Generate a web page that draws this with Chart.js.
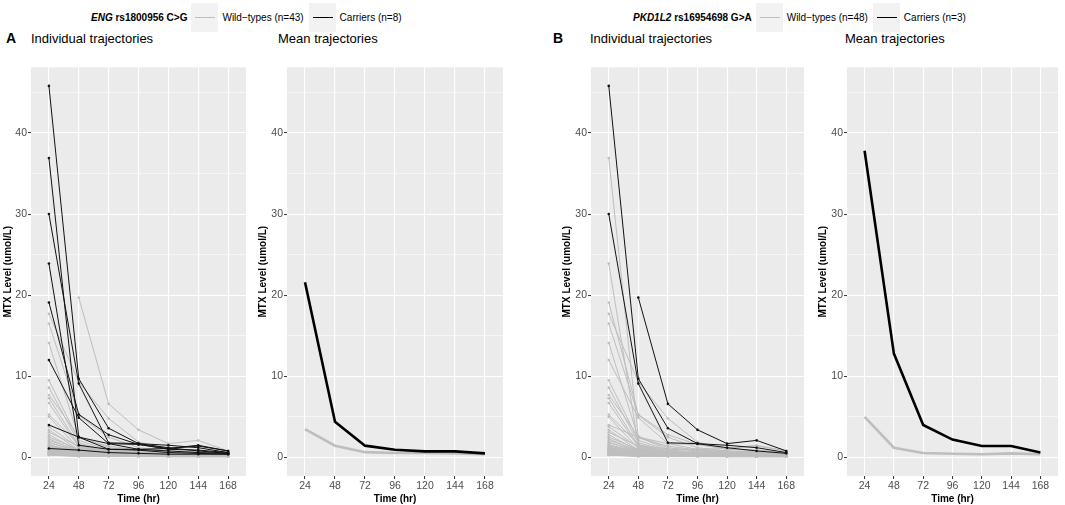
<!DOCTYPE html>
<html>
<head>
<meta charset="utf-8">
<script src="https://cdn.jsdelivr.net/npm/chart.js@4.4.1/dist/chart.umd.min.js"></script>
<style>
  body { margin: 0; width: 1065px; height: 505px; background: #fff; position: relative; overflow: hidden;
         font-family: "Liberation Sans", Arial, sans-serif; }
  canvas { position: absolute; top: 60px; }
  .tag { position: absolute; top: 31px; font-size: 14px; font-weight: bold; line-height: 1; }
  .title { position: absolute; top: 32px; font-size: 13px; line-height: 1; }
  .legend { position: absolute; top: 3px; height: 29px; display: flex; align-items: center; font-size: 10px; white-space: nowrap; }
  .legend b { margin-right: 4px; }
  .key { width: 27px; height: 29px; background: #F2F2F2; position: relative; margin-right: 4px; }
  .key i { position: absolute; left: 4px; right: 3px; top: 14px; height: 1px; }
  .gap { margin-right: 5px; }
</style>
</head>
<body>

<div class="legend" style="left:91px">
  <b><i>ENG</i> rs1800956 C&gt;G</b>
  <span class="key"><i style="background:#BEBEBE"></i></span><span class="gap">Wild−types (n=43)</span>
  <span class="key"><i style="background:#000"></i></span><span>Carriers (n=8)</span>
</div>
<div class="legend" style="left:633px">
  <b><i>PKD1L2</i> rs16954698 G&gt;A</b>
  <span class="key"><i style="background:#BEBEBE"></i></span><span class="gap">Wild−types (n=48)</span>
  <span class="key"><i style="background:#000"></i></span><span>Carriers (n=3)</span>
</div>

<div class="tag" style="left:6px">A</div>
<div class="title" style="left:31px">Individual trajectories</div>
<div class="title" style="left:278px">Mean trajectories</div>
<div class="tag" style="left:553px">B</div>
<div class="title" style="left:590px">Individual trajectories</div>
<div class="title" style="left:845px">Mean trajectories</div>

<canvas id="engIndividual" width="250" height="445" style="left:0px"></canvas>
<canvas id="engMean" width="250" height="445" style="left:255px"></canvas>
<canvas id="pkdIndividual" width="249" height="445" style="left:559px"></canvas>
<canvas id="pkdMean" width="245" height="445" style="left:815px"></canvas>

<script>
// 時間點與刻度
const timePoints = [24, 48, 72, 96, 120, 144, 168];
const yTicks = [0, 5, 10, 15, 20, 25, 30, 35, 40, 45];

// 每位病人的 MTX 濃度 (24h ... 168h)，null = 沒有量測
const patients = [
  [45.8, 9.7, 3.6, 1.7, 1.5, 1.2, 0.6],
  [36.9, 2.5, 1.7, 1.6, 1.1, 1.5, 0.8],
  [30.0, 9.1, 1.8, 1.7, 1.2, 0.8, 0.5],
  [23.9, 1.5, 1.0, 0.9, 0.6, 0.5, 0.4],
  [19.1, 5.3, 2.8, 1.6, 1.0, 0.9, 0.6],
  [12.0, 4.9, 1.7, 1.0, 1.1, 1.4, 0.8],
  [4.0, 2.5, 1.0, 1.0, 0.8, 0.6, 0.5],
  [1.1, 0.9, 0.6, 0.5, 0.4, 0.4, 0.4],
  [null, 19.7, 6.6, 3.4, 1.7, 2.1, 0.8],
  [17.7, 9.3, 4.8, 1.9, 1.0, 0.9, 0.5],
  [16.5, 5.2, 2.5, 1.2, 0.8, 0.7, 0.5],
  [14.1, 2.4, 1.4, 0.9, 0.7, 0.6, 0.4],
  [9.5, 2.1, 0.9, 0.7, 0.5, 0.5, 0.4],
  [8.6, 1.8, 0.8, 0.6, 0.5, 0.4, 0.3],
  [7.7, 2.6, 1.2, 0.8, 0.6, 0.5, 0.4],
  [7.3, 1.5, 0.6, 0.5, 0.4, 0.4, 0.3],
  [6.7, 1.3, 0.6, 0.5, 0.4, 0.4, 0.3],
  [5.3, 1.6, 0.7, 0.6, 0.5, 0.4, 0.3],
  [5.0, 1.1, 0.5, 0.4, 0.3, 0.3, 0.3],
  [3.8, 1.2, 0.6, 0.5, 0.4, 0.3, 0.3],
  [3.4, 0.9, 0.5, 0.4, 0.3, 0.3, 0.2],
  [3.1, 1.4, 0.7, 0.5, 0.4, 0.4, 0.3],
  [2.8, 0.8, 0.4, 0.3, 0.3, 0.2, 0.2],
  [2.5, 1.0, 0.6, 0.5, 0.4, 0.3, 0.3],
  [2.3, 0.7, 0.4, 0.3, 0.3, 0.2, 0.2],
  [2.1, 0.9, 0.5, 0.4, 0.4, 0.3, 0.3],
  [1.9, 0.6, 0.4, 0.3, 0.2, 0.2, 0.2],
  [1.8, 0.8, 0.5, 0.4, 0.3, 0.3, 0.2],
  [1.6, 0.5, 0.3, 0.3, 0.2, 0.2, 0.2],
  [1.5, 0.7, 0.5, 0.4, 0.3, 0.3, 0.3],
  [1.4, 0.6, 0.4, 0.4, 0.3, 0.2, 0.2],
  [1.3, 0.5, 0.4, 0.3, 0.3, 0.3, 0.2],
  [1.2, 0.6, 0.5, 0.4, 0.3, 0.3, 0.3],
  [1.1, 0.4, 0.3, 0.3, 0.2, 0.2, 0.2],
  [1.0, 0.5, 0.4, 0.3, 0.3, 0.2, 0.2],
  [0.9, 0.4, 0.4, 0.3, 0.3, 0.3, 0.2],
  [0.9, 0.3, 0.3, 0.2, 0.2, 0.2, 0.2],
  [0.8, 0.4, 0.3, 0.3, 0.2, 0.2, 0.2],
  [0.8, 0.3, 0.3, 0.3, 0.3, 0.2, 0.2],
  [0.7, 0.3, 0.2, 0.2, 0.2, 0.2, 0.2],
  [0.7, 0.4, 0.4, 0.3, 0.3, 0.3, 0.2],
  [0.6, 0.3, 0.3, 0.3, 0.2, 0.2, 0.2],
  [0.6, 0.2, 0.2, 0.2, 0.2, 0.2, 0.1],
  [0.5, 0.3, 0.3, 0.3, 0.3, 0.2, 0.2],
  [0.5, 0.2, 0.2, 0.2, 0.2, 0.2, 0.1],
  [0.4, 0.2, 0.2, 0.2, 0.1, 0.1, 0.1],
  [0.4, 0.3, 0.3, 0.2, 0.2, 0.2, 0.2],
  [0.4, 0.2, 0.2, 0.1, 0.1, 0.1, 0.1],
  [0.3, 0.2, 0.2, 0.2, 0.2, 0.1, 0.1],
  [0.3, 0.2, 0.2, 0.2, 0.1, 0.1, 0.1],
  [0.3, 0.1, 0.1, 0.1, 0.1, 0.1, 0.1]
];

// 帶因者標記 (1 = Carrier)
const engCarrier = [1,1,1,1,1,1,1,1, 0,0,0,0,0,0,0,0,0,0,0,0,0,0,0,0,0,0,0,0,0,0,0,0,0,0,0,0,0,0,0,0,0,0,0,0,0,0,0,0,0,0,0];
const pkdCarrier = [1,0,1,0,0,0,0,0, 1,0,0,0,0,0,0,0,0,0,0,0,0,0,0,0,0,0,0,0,0,0,0,0,0,0,0,0,0,0,0,0,0,0,0,0,0,0,0,0,0,0,0];

// 平均軌跡
const engMeanWild = [3.5, 1.45, 0.65, 0.55, 0.55, 0.5, 0.4];
const engMeanCarrier = [21.6, 4.4, 1.45, 0.95, 0.75, 0.75, 0.5];
const pkdMeanWild = [5.0, 1.2, 0.55, 0.45, 0.4, 0.5, 0.4];
const pkdMeanCarrier = [37.8, 12.8, 4.0, 2.2, 1.4, 1.4, 0.6];

const WILD = '#BEBEBE';
const CARRIER = '#111111';

function toPoints(values) {
  return timePoints.map((t, i) => ({ x: t, y: values[i] }));
}

function individualSets(flags) {
  return patients.map((row, i) => {
    const c = flags[i] ? CARRIER : WILD;
    return {
      data: toPoints(row),
      borderColor: c,
      backgroundColor: c,
      borderWidth: 1,
      pointRadius: 1.3,
      pointBorderWidth: 0,
      order: flags[i] ? 0 : 1
    };
  });
}

function meanSets(wild, carrier) {
  return [
    { data: toPoints(carrier), borderColor: '#000', borderWidth: 2.6, pointRadius: 0, order: 0 },
    { data: toPoints(wild), borderColor: WILD, borderWidth: 2.6, pointRadius: 0, order: 1 }
  ];
}

// 灰色面板背景
const panelBg = {
  id: 'panelBg',
  beforeDraw(chart) {
    const { ctx, chartArea: a } = chart;
    ctx.save();
    ctx.fillStyle = '#EBEBEB';
    ctx.fillRect(a.left, a.top, a.right - a.left, a.bottom - a.top);
    ctx.restore();
  }
};

function buildPanel(id, datasets, axisWidth) {
  return new Chart(document.getElementById(id), {
    type: 'line',
    data: { datasets },
    options: {
      responsive: false,
      animation: false,
      layout: { padding: { top: 2, right: 2, left: 0, bottom: 0 } },
      plugins: { legend: { display: false }, tooltip: { enabled: false } },
      scales: {
        x: {
          type: 'linear',
          min: 9.6,
          max: 182.4,
          afterBuildTicks: s => { s.ticks = timePoints.map(v => ({ value: v })); },
          afterFit: s => { s.height = 29; },
          border: { display: false },
          grid: { color: '#FFFFFF', lineWidth: 1.1, tickColor: '#333333', tickLength: 3, tickWidth: 1 },
          ticks: { color: '#4D4D4D', font: { size: 10.5 }, padding: 1, maxRotation: 0, autoSkip: false },
          title: { display: true, text: 'Time (hr)', color: '#000', font: { size: 10, weight: 'bold' }, padding: { top: 1, bottom: 0 } }
        },
        y: {
          min: -2.29,
          max: 48.09,
          afterBuildTicks: s => { s.ticks = yTicks.map(v => ({ value: v })); },
          afterFit: s => { s.width = axisWidth; },
          border: { display: false },
          grid: {
            color: '#FFFFFF',
            lineWidth: c => (c.tick && c.tick.value % 10 === 0 ? 1.1 : 0.55),
            tickColor: c => (c.tick && c.tick.value % 10 === 0 ? '#333333' : 'rgba(0,0,0,0)'),
            tickLength: 3,
            tickWidth: 1
          },
          ticks: {
            color: '#4D4D4D',
            font: { size: 10.5 },
            padding: 1,
            autoSkip: false,
            callback: v => (v % 10 === 0 ? v : '')
          },
          title: { display: true, text: 'MTX Level (umol/L)', color: '#000', font: { size: 10, weight: 'bold' }, padding: { top: 2, bottom: 0 } }
        }
      }
    },
    plugins: [panelBg]
  });
}

buildPanel('engIndividual', individualSets(engCarrier), 31);
buildPanel('engMean', meanSets(engMeanWild, engMeanCarrier), 32);
buildPanel('pkdIndividual', individualSets(pkdCarrier), 32);
buildPanel('pkdMean', meanSets(pkdMeanWild, pkdMeanCarrier), 32);
</script>
</body>
</html>
